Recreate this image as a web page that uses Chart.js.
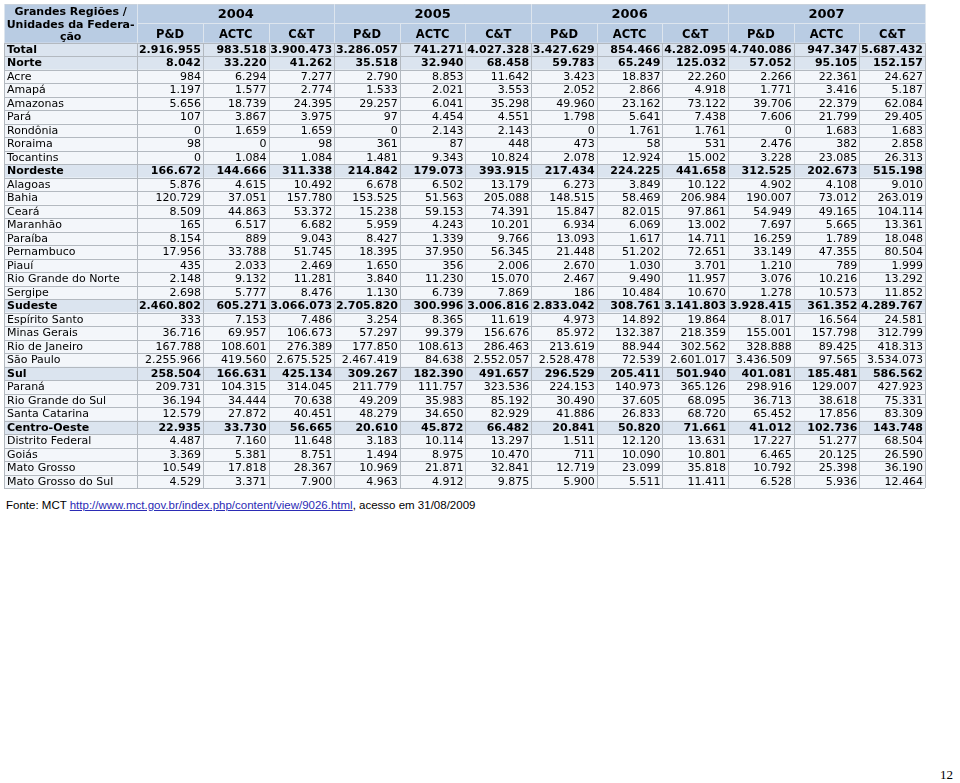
<!DOCTYPE html>
<html lang="pt-BR">
<head>
<meta charset="utf-8">
<script src="https://cdn.jsdelivr.net/npm/chart.js@4.4.1/dist/chart.umd.min.js"></script>
<style>
html,body{margin:0;padding:0;background:#fff;}
#wrap{position:absolute;left:0;top:0;width:960px;height:492px;}
#fonte{position:absolute;left:6px;top:499px;font:11.5px "Liberation Sans",Arial,sans-serif;color:#000;white-space:nowrap;}
#fonte a{color:#2b2bb5;}
#pagina{position:absolute;left:940px;top:767px;font:13px "Liberation Serif",serif;color:#000;}
</style>
</head>
<body>
<div id="wrap"><canvas id="tabela"></canvas></div>
<div id="fonte">Fonte: MCT <a href="#">http://www.mct.gov.br/index.php/content/view/9026.html</a>, acesso em 31/08/2009</div>
<div id="pagina">12</div>
<script>
// cabeçalhos
const firstHeader = ["Grandes Regiões /", "Unidades da Federa-", "ção"];
const years = ["2004", "2005", "2006", "2007"];
const measures = ["P&D", "ACTC", "C&T"];

const rows = ["Total", "Norte", "Acre", "Amapá", "Amazonas", "Pará", "Rondônia", "Roraima", "Tocantins",
	"Nordeste", "Alagoas", "Bahia", "Ceará", "Maranhão", "Paraíba", "Pernambuco", "Piauí", "Rio Grande do Norte", "Sergipe",
	"Sudeste", "Espírito Santo", "Minas Gerais", "Rio de Janeiro", "São Paulo",
	"Sul", "Paraná", "Rio Grande do Sul", "Santa Catarina",
	"Centro-Oeste", "Distrito Federal", "Goiás", "Mato Grosso", "Mato Grosso do Sul"];
const boldRows = ["Total", "Norte", "Nordeste", "Sudeste", "Sul", "Centro-Oeste"];

// valores por coluna (mesma ordem de rows)
const pd2004 = [2916955, 8042, 984, 1197, 5656, 107, 0, 98, 0, 166672, 5876, 120729, 8509, 165, 8154, 17956, 435, 2148, 2698, 2460802, 333, 36716, 167788, 2255966, 258504, 209731, 36194, 12579, 22935, 4487, 3369, 10549, 4529];
const actc2004 = [983518, 33220, 6294, 1577, 18739, 3867, 1659, 0, 1084, 144666, 4615, 37051, 44863, 6517, 889, 33788, 2033, 9132, 5777, 605271, 7153, 69957, 108601, 419560, 166631, 104315, 34444, 27872, 33730, 7160, 5381, 17818, 3371];
const ct2004 = [3900473, 41262, 7277, 2774, 24395, 3975, 1659, 98, 1084, 311338, 10492, 157780, 53372, 6682, 9043, 51745, 2469, 11281, 8476, 3066073, 7486, 106673, 276389, 2675525, 425134, 314045, 70638, 40451, 56665, 11648, 8751, 28367, 7900];
const pd2005 = [3286057, 35518, 2790, 1533, 29257, 97, 0, 361, 1481, 214842, 6678, 153525, 15238, 5959, 8427, 18395, 1650, 3840, 1130, 2705820, 3254, 57297, 177850, 2467419, 309267, 211779, 49209, 48279, 20610, 3183, 1494, 10969, 4963];
const actc2005 = [741271, 32940, 8853, 2021, 6041, 4454, 2143, 87, 9343, 179073, 6502, 51563, 59153, 4243, 1339, 37950, 356, 11230, 6739, 300996, 8365, 99379, 108613, 84638, 182390, 111757, 35983, 34650, 45872, 10114, 8975, 21871, 4912];
const ct2005 = [4027328, 68458, 11642, 3553, 35298, 4551, 2143, 448, 10824, 393915, 13179, 205088, 74391, 10201, 9766, 56345, 2006, 15070, 7869, 3006816, 11619, 156676, 286463, 2552057, 491657, 323536, 85192, 82929, 66482, 13297, 10470, 32841, 9875];
const pd2006 = [3427629, 59783, 3423, 2052, 49960, 1798, 0, 473, 2078, 217434, 6273, 148515, 15847, 6934, 13093, 21448, 2670, 2467, 186, 2833042, 4973, 85972, 213619, 2528478, 296529, 224153, 30490, 41886, 20841, 1511, 711, 12719, 5900];
const actc2006 = [854466, 65249, 18837, 2866, 23162, 5641, 1761, 58, 12924, 224225, 3849, 58469, 82015, 6069, 1617, 51202, 1030, 9490, 10484, 308761, 14892, 132387, 88944, 72539, 205411, 140973, 37605, 26833, 50820, 12120, 10090, 23099, 5511];
const ct2006 = [4282095, 125032, 22260, 4918, 73122, 7438, 1761, 531, 15002, 441658, 10122, 206984, 97861, 13002, 14711, 72651, 3701, 11957, 10670, 3141803, 19864, 218359, 302562, 2601017, 501940, 365126, 68095, 68720, 71661, 13631, 10801, 35818, 11411];
const pd2007 = [4740086, 57052, 2266, 1771, 39706, 7606, 0, 2476, 3228, 312525, 4902, 190007, 54949, 7697, 16259, 33149, 1210, 3076, 1278, 3928415, 8017, 155001, 328888, 3436509, 401081, 298916, 36713, 65452, 41012, 17227, 6465, 10792, 6528];
const actc2007 = [947347, 95105, 22361, 3416, 22379, 21799, 1683, 382, 23085, 202673, 4108, 73012, 49165, 5665, 1789, 47355, 789, 10216, 10573, 361352, 16564, 157798, 89425, 97565, 185481, 129007, 38618, 17856, 102736, 51277, 20125, 25398, 5936];
const ct2007 = [5687432, 152157, 24627, 5187, 62084, 29405, 1683, 2858, 26313, 515198, 9010, 263019, 104114, 13361, 18048, 80504, 1999, 13292, 11852, 4289767, 24581, 312799, 418313, 3534073, 586562, 427923, 75331, 83309, 143748, 68504, 26590, 36190, 12464];

const columns = [pd2004, actc2004, ct2004, pd2005, actc2005, ct2005, pd2006, actc2006, ct2006, pd2007, actc2007, ct2007];

// geometria em unidades das escalas
const firstColUnits = 2.03;
const headerUnits = 1.44;

const fmt = (v) => String(v).replace(/\B(?=(\d{3})+(?!\d))/g, ".");
const FONT = '"DejaVu Sans", Verdana, sans-serif';

const colEdge = (i) => i === 0 ? 0 : firstColUnits + (i - 1);
const rowEdge = (r) => 2 * headerUnits + r;

const tablePlugin = {
	id: "tabela",
	afterDraw(chart) {
		const {ctx, scales: {x, y}} = chart;
		const px = (u) => x.getPixelForValue(u);
		const py = (u) => y.getPixelForValue(u);
		const nCols = columns.length + 1;
		const left = px(0), right = px(colEdge(nCols));
		ctx.save();

		// fundos
		ctx.fillStyle = "#b9cce3";
		ctx.fillRect(left, py(0), right - left, py(2 * headerUnits) - py(0));
		rows.forEach((name, r) => {
			ctx.fillStyle = boldRows.includes(name) ? "#dbe4ef" : "#f3f6fa";
			ctx.fillRect(left, py(rowEdge(r)), right - left, py(rowEdge(r + 1)) - py(rowEdge(r)));
		});

		// linhas
		ctx.lineWidth = 1;
		const hline = (yy, x0, x1, c) => { ctx.strokeStyle = c; ctx.beginPath(); ctx.moveTo(x0, Math.round(yy) + 0.5); ctx.lineTo(x1, Math.round(yy) + 0.5); ctx.stroke(); };
		const vline = (xx, y0, y1, c) => { ctx.strokeStyle = c; ctx.beginPath(); ctx.moveTo(Math.round(xx) + 0.5, y0); ctx.lineTo(Math.round(xx) + 0.5, y1); ctx.stroke(); };
		const top = py(0), bottom = py(rowEdge(rows.length));
		for (let r = 0; r <= rows.length; r++) hline(py(rowEdge(r)), left, right, "#b3b9c0");
		hline(top, left, right, "#c9d2dc");
		hline(py(headerUnits), px(colEdge(1)), right, "#dde5ee");
		for (let i = 0; i <= nCols; i++) {
			const xx = px(colEdge(i));
			vline(xx, py(2 * headerUnits), bottom, "#b3b9c0");
			if (i === 0 || i === 1 || i === nCols || (i - 1) % 3 === 0) vline(xx, top, py(2 * headerUnits), "#dde5ee");
			else vline(xx, py(headerUnits), py(2 * headerUnits), "#dde5ee");
		}

		// cabeçalho
		ctx.fillStyle = "#000";
		ctx.textBaseline = "middle";
		ctx.textAlign = "center";
		ctx.font = "bold 11px " + FONT;
		const c0 = (px(colEdge(0)) + px(colEdge(1))) / 2;
		const hMid = py(headerUnits) + 1.5;
		firstHeader.forEach((t, k) => ctx.fillText(t, c0, hMid + (k - 1) * 12.5));
		ctx.font = "bold 13px " + FONT;
		years.forEach((t, k) => {
			const cx = (px(colEdge(1 + 3 * k)) + px(colEdge(4 + 3 * k))) / 2;
			ctx.fillText(t, cx, py(headerUnits / 2) + 1);
		});
		ctx.font = "bold 11.5px " + FONT;
		for (let i = 0; i < columns.length; i++) {
			const cx = (px(colEdge(i + 1)) + px(colEdge(i + 2))) / 2;
			ctx.fillText(measures[i % 3], cx, py(headerUnits * 1.5) + 1.5);
		}

		// corpo
		rows.forEach((name, r) => {
			const bold = boldRows.includes(name);
			const cy = py(rowEdge(r + 0.5)) + 0.5;
			ctx.font = (bold ? "bold " : "") + "11px " + FONT;
			ctx.textAlign = "left";
			ctx.fillText(name, left + 3, cy);
			ctx.textAlign = "right";
			columns.forEach((col, i) => ctx.fillText(fmt(col[r]), px(colEdge(i + 2)) - 2, cy));
		});
		ctx.restore();
	}
};

new Chart(document.getElementById("tabela"), {
	type: "scatter",
	data: {datasets: []},
	options: {
		responsive: true,
		maintainAspectRatio: false,
		animation: false,
		events: [],
		layout: {padding: {left: 4, right: 35, top: 4, bottom: 4}},
		scales: {
			x: {type: "linear", display: false, min: 0, max: colEdge(columns.length + 1)},
			y: {type: "linear", display: false, reverse: true, min: 0, max: rowEdge(rows.length)}
		},
		plugins: {legend: {display: false}, tooltip: {enabled: false}}
	},
	plugins: [tablePlugin]
});
</script>
</body>
</html>
